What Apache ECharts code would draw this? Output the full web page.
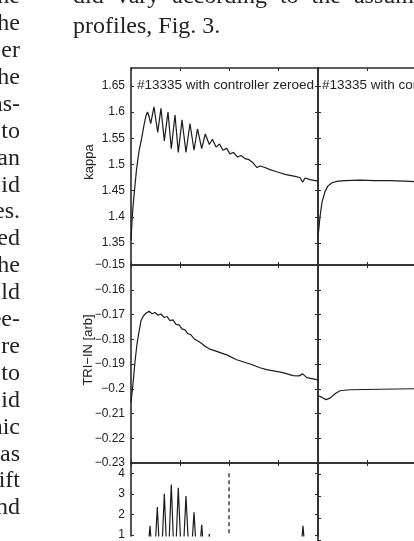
<!DOCTYPE html>
<html>
<head>
<meta charset="utf-8">
<script src="https://cdn.jsdelivr.net/npm/echarts@6/dist/echarts.min.js"></script>
<style>
html, body { margin: 0; padding: 0; background: #fff; }
#main { width: 414px; height: 541px; }
</style>
</head>
<body>
<div id="main"></div>
<script>
// time in tick units (one tick = one major division on the x axes, 49px)
var TICK_PX = 49;

// tick labels
var kappaTicks = [1.35, 1.4, 1.45, 1.5, 1.55, 1.6, 1.65];
var triTicks = [-0.23, -0.22, -0.21, -0.2, -0.19, -0.18, -0.17, -0.16, -0.15];
var lowerTicks = [1, 2, 3, 4];
var timeTicks = [0, 1, 2, 3];

var panelTitles = ['#13335 with controller zeroed', '#13335 with controller active'];

// kappa, controller zeroed  [t, kappa]
var kappaZeroed = [
    [0.000, 1.356], [0.020, 1.390], [0.041, 1.420], [0.071, 1.450], [0.112, 1.490],
    [0.163, 1.525], [0.218, 1.550], [0.265, 1.575], [0.306, 1.593], [0.337, 1.600],
    [0.367, 1.592], [0.402, 1.578], [0.469, 1.610], [0.545, 1.561], [0.612, 1.607],
    [0.680, 1.545], [0.755, 1.600], [0.822, 1.530], [0.898, 1.594], [0.965, 1.523],
    [1.041, 1.585], [1.122, 1.523], [1.204, 1.578], [1.286, 1.527], [1.357, 1.568],
    [1.443, 1.530], [1.516, 1.558], [1.598, 1.538], [1.663, 1.548], [1.735, 1.533],
    [1.806, 1.539], [1.878, 1.527], [1.949, 1.531], [2.020, 1.520], [2.092, 1.523],
    [2.173, 1.514], [2.245, 1.517], [2.327, 1.511], [2.408, 1.509], [2.490, 1.503],
    [2.571, 1.494], [2.633, 1.497], [2.735, 1.494], [2.837, 1.490], [2.939, 1.487],
    [3.041, 1.484], [3.143, 1.481], [3.245, 1.479], [3.347, 1.477], [3.449, 1.475],
    [3.504, 1.466], [3.551, 1.474], [3.653, 1.471], [3.816, 1.468]
];
// kappa, second shot
var kappaRight = [
    [0.000, 1.361], [0.020, 1.380], [0.041, 1.400], [0.082, 1.428], [0.143, 1.448],
    [0.204, 1.459], [0.286, 1.465], [0.408, 1.468], [0.551, 1.469], [0.857, 1.470],
    [1.163, 1.469], [1.469, 1.469], [1.776, 1.468], [1.980, 1.467]
];

// TRI-IN, controller zeroed
var triZeroed = [
    [0.000, -0.2055], [0.014, -0.2050], [0.041, -0.1980], [0.082, -0.1890], [0.122, -0.1820],
    [0.163, -0.1770], [0.204, -0.1725], [0.255, -0.1705], [0.306, -0.1695], [0.367, -0.1687],
    [0.429, -0.1697], [0.490, -0.1692], [0.551, -0.1703], [0.612, -0.1698], [0.673, -0.1712],
    [0.735, -0.1708], [0.796, -0.1725], [0.857, -0.1722], [0.918, -0.1740], [0.980, -0.1742],
    [1.041, -0.1758], [1.102, -0.1762], [1.163, -0.1778], [1.224, -0.1782], [1.286, -0.1798],
    [1.347, -0.1805], [1.429, -0.1815], [1.510, -0.1828], [1.612, -0.1840], [1.749, -0.1849],
    [1.953, -0.1863], [2.157, -0.1883], [2.429, -0.1900], [2.633, -0.1915], [2.769, -0.1923],
    [3.102, -0.1935], [3.306, -0.1947], [3.429, -0.1948], [3.504, -0.1940], [3.586, -0.1955],
    [3.789, -0.1963], [3.816, -0.1964]
];
// TRI-IN, second shot
var triRight = [
    [0.000, -0.2028], [0.082, -0.2035], [0.163, -0.2044], [0.245, -0.2038], [0.347, -0.2020],
    [0.449, -0.2008], [0.653, -0.2004], [1.265, -0.2002], [1.980, -0.2000]
];

// lower panel, controller zeroed
var lowerZeroed = [
    [0.000, -0.5], [0.310, -0.8], [0.388, 1.45], [0.462, -1], [0.537, 2.36], [0.608, -1],
    [0.680, 3.00], [0.751, -1], [0.822, 3.45], [0.893, -1], [0.965, 3.30], [1.043, -1],
    [1.122, 2.90], [1.204, -1], [1.286, 2.10], [1.364, -1], [1.443, 1.50], [1.520, -1],
    [1.598, 1.05], [1.680, -0.8], [1.800, 0.0], [3.000, 0.1], [3.440, -0.6], [3.510, 1.45],
    [3.580, -0.6], [3.816, 0.0]
];
var lowerRight = [[0.000, 0.2], [1.980, 0.2]];

// body text of the page around the figure
var bodyTop = ['did', 'vary', 'according', 'to', 'the', 'assumed'];
var bodyLast = 'profiles, Fig. 3.';
var leftColumn = ['ne', 'he', 'er', 'he', 'as-', 'to', 'an', 'id', 'es.', 'ed',
    'he', 'ld', 'ee-', 're', 'to', 'id', 'nic', 'as', 'ift', 'nd'];

var chart = echarts.init(document.getElementById('main'), null, { renderer: 'canvas' });

// panels are cut by the page edge: right column ends at 414, lower row at 541
var rowBox = [[68, 197], [265, 198], [463, 78]];
var colBox = [[131, 187], [318, 96]];
var yRange = [[1.308, 1.684], [-0.23, -0.15], [4.5 - 78 / 22, 4.5]];
var yTicks = [kappaTicks, triTicks, lowerTicks];
var panelData = [[kappaZeroed, kappaRight], [triZeroed, triRight], [lowerZeroed, lowerRight]];

var INK = '#222';
var AXIS = '#2a2a2a';
var SANS = '"Liberation Sans", Arial, Helvetica, sans-serif';
var SERIF = '"Liberation Serif", "Times New Roman", serif';

function fmt(v) {
    return String(+(+v).toFixed(2)).replace('-', '\u2212');
}

var grids = [], xAxes = [], yAxes = [], series = [];

for (var r = 0; r < 3; r++) {
    for (var c = 0; c < 2; c++) {
        var gi = grids.length;
        grids.push({
            left: colBox[c][0], top: rowBox[r][0],
            width: colBox[c][1], height: rowBox[r][1]
        });

        ['bottom', 'top'].forEach(function(pos) {
            var cut = (r === 2 && pos === 'bottom'); // lower edge is off the page
            xAxes.push({
                gridIndex: gi, type: 'value', position: pos,
                min: 0, max: colBox[c][1] / TICK_PX,
                axisLine: { show: !cut, onZero: false, lineStyle: { color: AXIS, width: 1.6 } },
                axisTick: { show: !cut, inside: true, length: 3, customValues: timeTicks,
                    lineStyle: { color: AXIS, width: 1 } },
                axisLabel: { show: false },
                splitLine: { show: false }
            });
        });

        ['left', 'right'].forEach(function(pos) {
            var withLabels = (c === 0 && pos === 'left');
            var cut = (c === 1 && pos === 'right'); // right edge is off the page
            yAxes.push({
                gridIndex: gi, type: 'value', position: pos,
                min: yRange[r][0], max: yRange[r][1],
                axisLine: { show: !cut, onZero: false, lineStyle: { color: AXIS, width: 1.6 } },
                axisTick: { show: !cut, inside: true, length: 3, customValues: yTicks[r],
                    lineStyle: { color: AXIS, width: 1 } },
                axisLabel: {
                    show: withLabels, customValues: yTicks[r], formatter: fmt,
                    color: INK, fontSize: 12, fontFamily: SANS, margin: 6
                },
                splitLine: { show: false }
            });
        });

        var s = {
            type: 'line',
            xAxisIndex: gi * 2, yAxisIndex: gi * 2,
            data: panelData[r][c],
            showSymbol: false,
            lineStyle: { color: '#1c1c1c', width: 1.2 },
            silent: true
        };
        if (r === 2 && c === 0) {
            // dashed marker on the lower panel
            s.markLine = {
                silent: true, symbol: 'none', label: { show: false },
                lineStyle: { color: '#444', width: 1.5, type: [4, 3] },
                data: [[{ coord: [2, 4] }, { coord: [2, yRange[2][0]] }]]
            };
        }
        series.push(s);
    }
}

// page text and panel labels
var graphic = [];

function addText(txt, x, y, font, align, rot) {
    graphic.push({
        type: 'text', x: x, y: y, rotation: rot || 0, silent: true,
        style: {
            text: txt, x: 0, y: 0, font: font, fill: INK,
            align: align, textAlign: align,
            verticalAlign: 'middle', textVerticalAlign: 'middle'
        }
    });
}

addText(panelTitles[0], 137, 85, '13.5px ' + SANS, 'left');
addText(panelTitles[1], 322, 85, '13.5px ' + SANS, 'left');
addText('kappa', 89.5, 162, '13px ' + SANS, 'center', Math.PI / 2);
addText('TRI\u2212IN [arb]', 88.5, 350, '13px ' + SANS, 'center', Math.PI / 2);

var ctx = document.createElement('canvas').getContext('2d');
var bodyFont = '24px ' + SERIF;
ctx.font = bodyFont;
var bx = 73;
bodyTop.forEach(function(w) {
    addText(w, bx, 5 - 8, bodyFont, 'left');
    bx += ctx.measureText(w).width + 13;
});
addText(bodyLast, 73, 35 - 8, bodyFont, 'left');
leftColumn.forEach(function(w, k) {
    addText(w, 20, 5 + k * 26.9 - 8, bodyFont, 'right');
});

chart.setOption({
    animation: false,
    backgroundColor: '#fff',
    grid: grids,
    xAxis: xAxes,
    yAxis: yAxes,
    series: series,
    graphic: graphic
});
</script>
</body>
</html>
